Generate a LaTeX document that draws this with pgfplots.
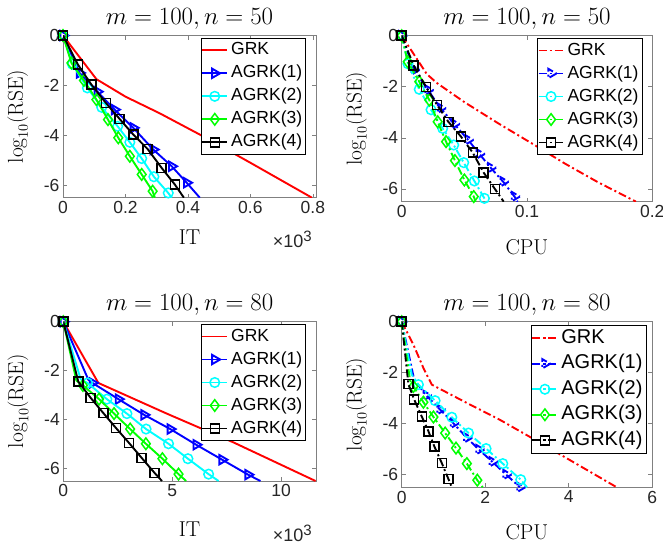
\documentclass[border=0pt]{standalone}
\usepackage{fontspec}
\usepackage{pgfplots}
\pgfplotsset{compat=1.18}
\newfontfamily\arial{Liberation Sans}
\definecolor{mred}{rgb}{1,0,0}
\definecolor{mblue}{rgb}{0,0,1}
\definecolor{mcyan}{rgb}{0,1,1}
\definecolor{mgreen}{rgb}{0,1,0}
\definecolor{axgray}{rgb}{0.5,0.5,0.5}

\tikzset{x3/.style={anchor=base east, inner sep=0pt, font=\arial\fontsize{18}{18}\selectfont, text=black!85}}
\newcommand{\xten}{×10\raisebox{0.62ex}{\fontsize{15}{15}\selectfont 3}}
\pgfplotsset{
  rse/.style={
    scale only axis, clip mode=individual,
    axis line style={axgray, line width=0.7pt},
    tick style={axgray, line width=0.7pt}, major tick length=4pt,
    ticklabel style={font=\arial\fontsize{17.5}{17.5}\selectfont, text=black!85},
    ymin=-6.5, ymax=0,
    ytick={-6,-4,-2,0}, yticklabels={-6,-4,-2,0},
    ylabel={$\log_{10}(\mathrm{RSE})$},
    label style={font=\fontsize{21.5}{21.5}\selectfont},
    xlabel style={yshift=-9pt},
    ylabel style={yshift=9pt},
    title style={font=\fontsize{24}{24}\selectfont, yshift=-3pt},
    legend cell align=left,
    legend style={at={(1,1)}, anchor=north east, xshift=-10pt, yshift=-2.5pt,
      draw=black, line width=0.6pt, fill=white, inner sep=0.5pt, row sep=0pt,
      font=\arial\fontsize{17.5}{17.5}\selectfont,
      nodes={inner sep=3pt, text height=13pt, text depth=4pt}},
    legend image code/.code={\draw[line width=1.9pt, mark repeat=2,mark phase=2,##1] plot coordinates {(0pt,0pt)(12.5pt,0pt)(25pt,0pt)};},
  },
  ln/.style={line width=1.9pt, mark options={solid, line width=1.5pt, fill=white}},
  dd/.style={ln, dash pattern=on 8pt off 3pt on 2pt off 3pt},
  m1/.style={mblue, mark=triangle, mark size=5.4pt, mark options={rotate=-90}},
  m2/.style={mcyan, mark=o, mark size=4.8pt},
  m3/.style={mgreen, mark=diamond, mark size=5.8pt},
  m4/.style={black, mark=square, mark size=4.5pt},
}

\begin{document}
\begin{tikzpicture}
\useasboundingbox (0,0) rectangle (663pt,547pt);

% ---------- top left: IT, n=50
\begin{axis}[rse, at={(63pt,349.3pt)}, anchor=south west, width=253pt, height=162.2pt,
  xmin=0, xmax=0.81, xtick={0,0.2,0.4,0.6,0.8}, xticklabels={0,0.2,0.4,0.6,0.8},
  xlabel={IT}, title={$m=100,n=50$}]
\addplot[ln, mred, forget plot] coordinates {(0,0) (0.107,-1.75) (0.2,-2.45) (0.31,-3.12) (0.45,-4.05) (0.6,-5.1) (0.797,-6.5)};
\addplot[ln, m1, mark indices={1,...,8}, forget plot] coordinates {(0,0) (0.053,-1.5) (0.11,-2.25) (0.165,-2.97) (0.225,-3.7) (0.289,-4.57) (0.348,-5.24) (0.396,-5.9) (0.438,-6.5)};
\addplot[ln, m2, mark indices={1,...,9}, forget plot] coordinates {(0,0) (0.03,-1.15) (0.078,-2.1) (0.124,-2.88) (0.175,-3.64) (0.214,-4.28) (0.252,-4.93) (0.291,-5.66) (0.337,-6.31) (0.348,-6.5)};
\addplot[ln, m3, mark indices={1,...,9}, forget plot] coordinates {(0,0) (0.027,-1.1) (0.067,-1.8) (0.107,-2.57) (0.144,-3.37) (0.177,-4.1) (0.214,-4.84) (0.252,-5.57) (0.287,-6.24) (0.294,-6.5)};
\addplot[ln, m4, mark indices={1,...,9}, forget plot] coordinates {(0,0) (0.048,-1.17) (0.091,-1.97) (0.137,-2.7) (0.181,-3.34) (0.225,-3.97) (0.271,-4.55) (0.316,-5.31) (0.358,-5.97) (0.387,-6.5)};
\addlegendimage{ln, mred}\addlegendentry{GRK}
\addlegendimage{ln, m1}\addlegendentry{AGRK(1)}
\addlegendimage{ln, m2}\addlegendentry{AGRK(2)}
\addlegendimage{ln, m3}\addlegendentry{AGRK(3)}
\addlegendimage{ln, m4}\addlegendentry{AGRK(4)}
\node[x3] at (rel axis cs:1,0) [xshift=-4pt, yshift=-50pt] {\xten};
\end{axis}

% ---------- top right: CPU, n=50
\begin{axis}[rse, at={(401.7pt,345.3pt)}, anchor=south west, width=250.6pt, height=166pt,
  xmin=0, xmax=0.2, xtick={0,0.1,0.2}, xticklabels={0,0.1,0.2},
  xlabel={CPU}, xlabel style={yshift=-6pt}, title={$m=100,n=50$}]
\addplot[dd, mred, forget plot] coordinates {(0,0) (0.01,-0.75) (0.02,-1.5) (0.028,-1.85) (0.05,-2.6) (0.077,-3.43) (0.106,-4.28) (0.13,-5.0) (0.156,-5.72) (0.187,-6.5)};
\addplot[dd, m1, mark indices={1,...,10}, forget plot] coordinates {(0,0) (0.010,-1.34) (0.021,-2.13) (0.031,-2.84) (0.042,-3.46) (0.053,-4.08) (0.062,-4.63) (0.071,-5.17) (0.081,-5.72) (0.090,-6.3) (0.0925,-6.5)};
\addplot[dd, m2, mark indices={1,...,9}, forget plot] coordinates {(0,0) (0.005,-1.1) (0.014,-2.1) (0.0234,-2.9) (0.0327,-3.63) (0.0415,-4.28) (0.0495,-4.97) (0.058,-5.69) (0.066,-6.37) (0.0675,-6.5)};
\addplot[dd, m3, mark indices={1,...,9}, forget plot] coordinates {(0,0) (0.0048,-1.02) (0.014,-1.8) (0.022,-2.52) (0.0287,-3.37) (0.0354,-4.15) (0.0425,-4.89) (0.05,-5.65) (0.0575,-6.3) (0.059,-6.5)};
\addplot[dd, m4, mark indices={1,...,9}, forget plot] coordinates {(0,0) (0.0096,-1.17) (0.0194,-2.0) (0.0282,-2.71) (0.0372,-3.37) (0.0473,-3.95) (0.0567,-4.58) (0.0654,-5.36) (0.0745,-6.01) (0.0814,-6.5)};
\addlegendimage{dd, mred}\addlegendentry{GRK}
\addlegendimage{dd, m1}\addlegendentry{AGRK(1)}
\addlegendimage{dd, m2}\addlegendentry{AGRK(2)}
\addlegendimage{dd, m3}\addlegendentry{AGRK(3)}
\addlegendimage{dd, m4}\addlegendentry{AGRK(4)}
\end{axis}

% ---------- bottom left: IT, n=80
\begin{axis}[rse, at={(63.3pt,66pt)}, anchor=south west, width=252.7pt, height=159.3pt,
  xmin=0, xmax=11.6, xtick={0,5,10}, xticklabels={0,5,10},
  xlabel={IT}, xlabel style={yshift=-9pt}, title={$m=100,n=80$}]
\addplot[ln, mred, forget plot] coordinates {(0,0) (1.61,-2.5) (4.75,-3.75) (7.8,-4.92) (11.58,-6.5)};
\addplot[ln, m1, mark indices={1,3,4,5,6,7,8,9}, forget plot] coordinates {(0,0) (1.15,-2.37) (1.34,-2.5) (2.53,-3.16) (3.71,-3.80) (4.91,-4.38) (6.1,-5.02) (7.29,-5.63) (8.48,-6.24) (9.05,-6.5)};
\addplot[ln, m2, mark indices={1,3,4,5,6,7,8,9}, forget plot] coordinates {(0,0) (0.8,-2.35) (1.11,-2.5) (2.0,-3.16) (2.92,-3.75) (3.80,-4.38) (4.83,-4.98) (5.72,-5.59) (6.67,-6.22) (7.13,-6.5)};
\addplot[ln, m3, mark indices={1,3,4,5,6,7,8,9}, forget plot] coordinates {(0,0) (0.6,-2.4) (0.9,-2.6) (1.64,-3.16) (2.33,-3.75) (3.07,-4.38) (3.79,-4.98) (4.55,-5.59) (5.29,-6.22) (5.64,-6.5)};
\addplot[ln, m4, mark indices={1,...,8}, forget plot] coordinates {(0,0) (0.69,-2.45) (1.26,-3.11) (1.84,-3.73) (2.42,-4.34) (3.02,-4.95) (3.6,-5.56) (4.19,-6.17) (4.53,-6.5)};
\addlegendimage{ln, mred}\addlegendentry{GRK}
\addlegendimage{ln, m1}\addlegendentry{AGRK(1)}
\addlegendimage{ln, m2}\addlegendentry{AGRK(2)}
\addlegendimage{ln, m3}\addlegendentry{AGRK(3)}
\addlegendimage{ln, m4}\addlegendentry{AGRK(4)}
\node[x3] at (rel axis cs:1,0) [xshift=-4pt, yshift=-60pt] {\xten};
\end{axis}

% ---------- bottom right: CPU, n=80
\begin{axis}[rse, at={(401.7pt,59.7pt)}, anchor=south west, width=250.6pt, height=165.6pt,
  xmin=0, xmax=6, xtick={0,2,4,6}, xticklabels={0,2,4,6},
  xlabel={CPU}, xlabel style={yshift=-5pt}, title={$m=100,n=80$},
  legend style={xshift=4pt, yshift=-0.5pt, font=\arial\fontsize{20}{20}\selectfont,
    nodes={inner sep=3pt, text height=14.5pt, text depth=5pt}}]
\addplot[dd, mred, forget plot] coordinates {(0,0) (0.28,-0.9) (0.52,-1.82) (0.72,-2.47) (1.56,-3.19) (2.35,-3.85) (3.11,-4.56) (5.15,-6.5)};
\addplot[dd, m1, mark indices={1,3,4,5,6,7,8,9,10}, forget plot] coordinates {(0,0) (0.3,-2.28) (0.59,-2.9) (0.92,-3.45) (1.24,-3.99) (1.56,-4.56) (1.85,-5.02) (2.17,-5.5) (2.5,-6.0) (2.83,-6.5)};
\addplot[dd, m2, mark indices={1,3,4,5,6,7,8,9}, forget plot] coordinates {(0,0) (0.24,-2.08) (0.40,-2.47) (0.80,-3.1) (1.2,-3.75) (1.6,-4.37) (2.02,-4.98) (2.42,-5.57) (2.85,-6.2) (3.0,-6.5)};
\addplot[dd, m3, mark indices={1,3,4,5,6,7,8,9}, forget plot] coordinates {(0,0) (0.2,-2.3) (0.28,-2.54) (0.52,-3.16) (0.76,-3.74) (1.04,-4.37) (1.3,-4.96) (1.56,-5.57) (1.81,-6.22) (1.94,-6.5)};
\addplot[dd, m4, mark indices={1,...,8}, forget plot] coordinates {(0,0) (0.16,-2.45) (0.30,-3.06) (0.48,-3.72) (0.64,-4.3) (0.78,-4.89) (0.96,-5.55) (1.12,-6.18) (1.2,-6.5)};
\addlegendimage{dd, mred}\addlegendentry{GRK}
\addlegendimage{dd, m1}\addlegendentry{AGRK(1)}
\addlegendimage{dd, m2}\addlegendentry{AGRK(2)}
\addlegendimage{dd, m3}\addlegendentry{AGRK(3)}
\addlegendimage{dd, m4}\addlegendentry{AGRK(4)}
\end{axis}
\end{tikzpicture}
\end{document}
